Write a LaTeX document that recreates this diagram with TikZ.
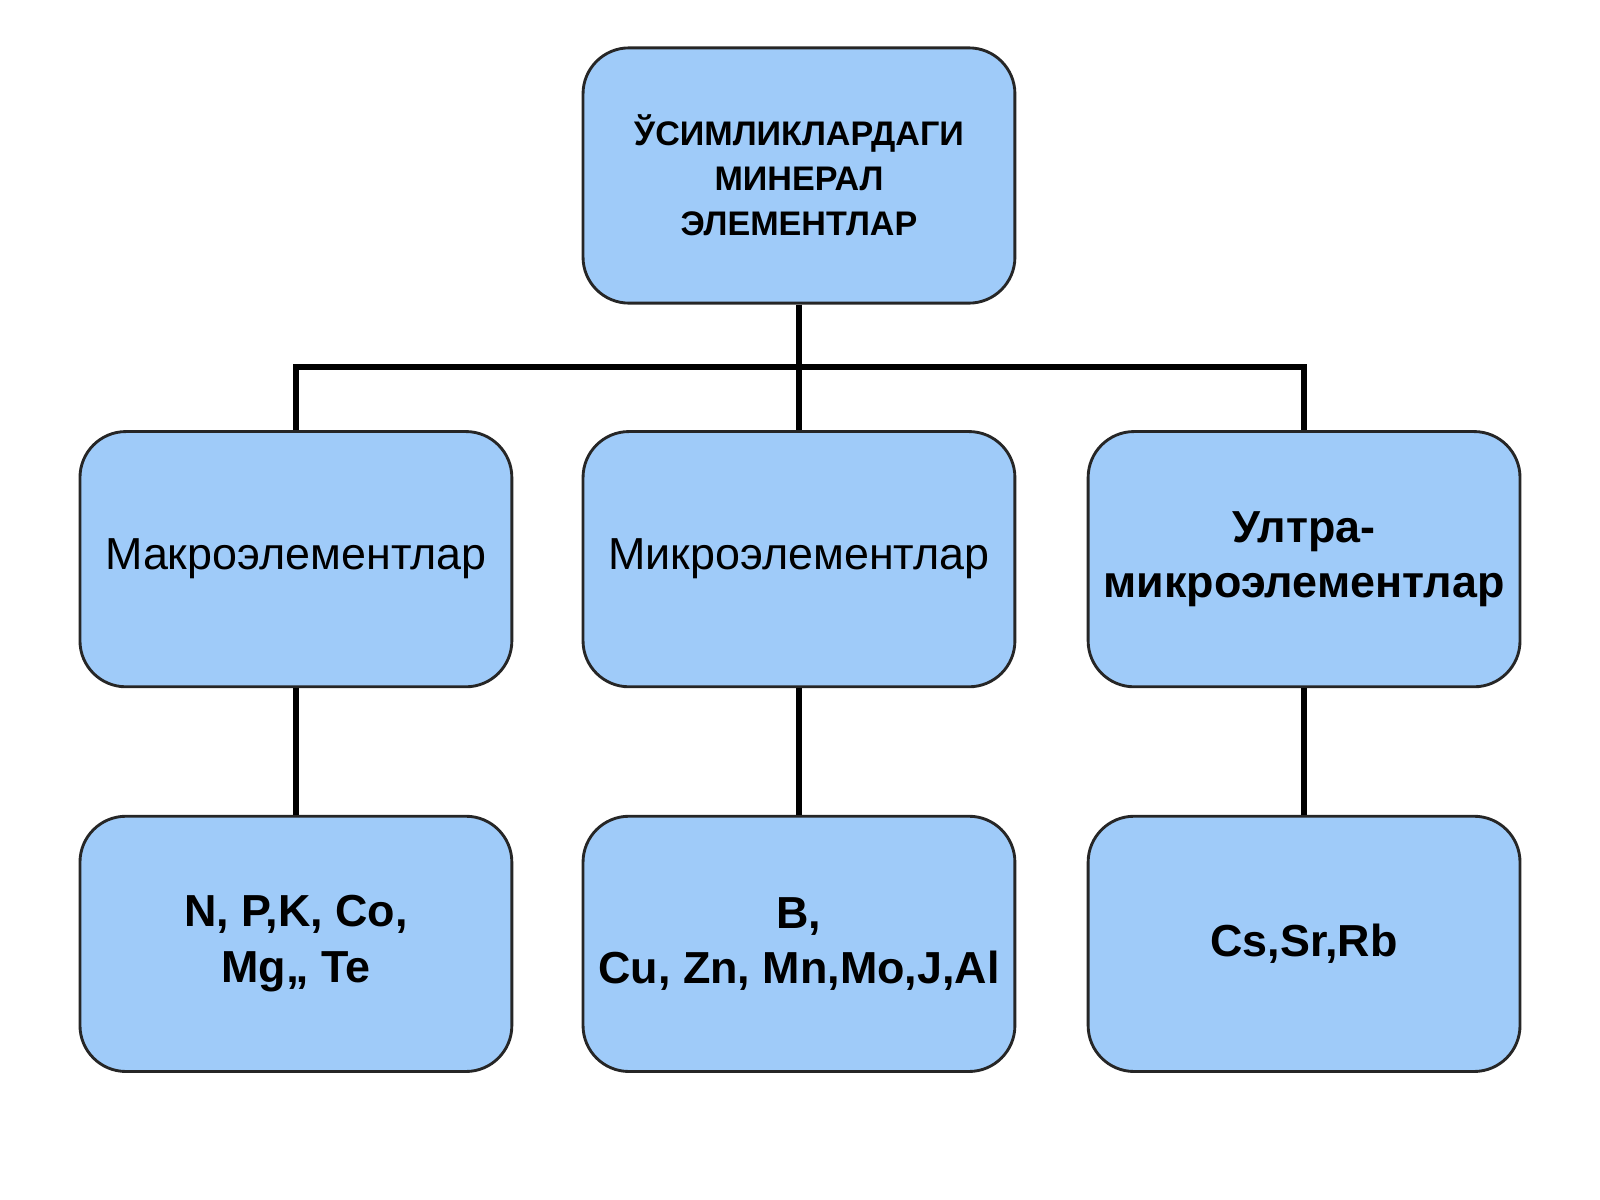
\documentclass[tikz,border=0pt]{standalone}
\usepackage{fontspec}
\setmainfont{Liberation Sans}
\definecolor{boxblue}{HTML}{9FCBF9}
\begin{document}
\begin{tikzpicture}[x=0.01cm,y=-0.01cm,
	box/.style={rectangle,rounded corners=0.45cm,draw=black!85,line width=0.8pt,fill=boxblue,minimum width=4.23cm,minimum height=2.5cm,align=center,inner sep=0pt},
	link/.style={line width=1.6pt,black}]

	\useasboundingbox (0,0) rectangle (1568,1176);

	%nodes
	\node[box, font=\bfseries\fontsize{9.5}{12.5}\selectfont] (Top) at (783,172) {ЎСИМЛИКЛАРДАГИ\\МИНЕРАЛ\\ЭЛЕМЕНТЛАР};

	\node[box, font=\fontsize{12.5}{15}\selectfont] (Macro) at (290,548) {Макроэлементлар};
	\node[box, font=\fontsize{12.5}{15}\selectfont] (Micro) at (783,548) {Микроэлементлар};
	\node[box, font=\bfseries\fontsize{12.5}{15.5}\selectfont] (Ultra) at (1278,548) {Ултра-\\микроэлементлар};

	\node[box, font=\bfseries\fontsize{12.5}{15.5}\selectfont] (MacroEl) at (290,925) {N, P,K, Co,\\Mg,, Te};
	\node[box, font=\bfseries\fontsize{12.5}{15.5}\selectfont] (MicroEl) at (783,925) {B,\\Cu, Zn, Mn,Mo,J,Al};
	\node[box, font=\bfseries\fontsize{12.5}{15.5}\selectfont] (UltraEl) at (1278,925) {Cs,Sr,Rb};

	\coordinate (Bus) at (783,360);

	%edges
	\draw[link] (Top.south) -- (Micro.north);
	\draw[link] (Macro.north) |- (Bus) -| (Ultra.north);
	\draw[link] (Macro) -- (MacroEl);
	\draw[link] (Micro) -- (MicroEl);
	\draw[link] (Ultra) -- (UltraEl);

\end{tikzpicture}
\end{document}
